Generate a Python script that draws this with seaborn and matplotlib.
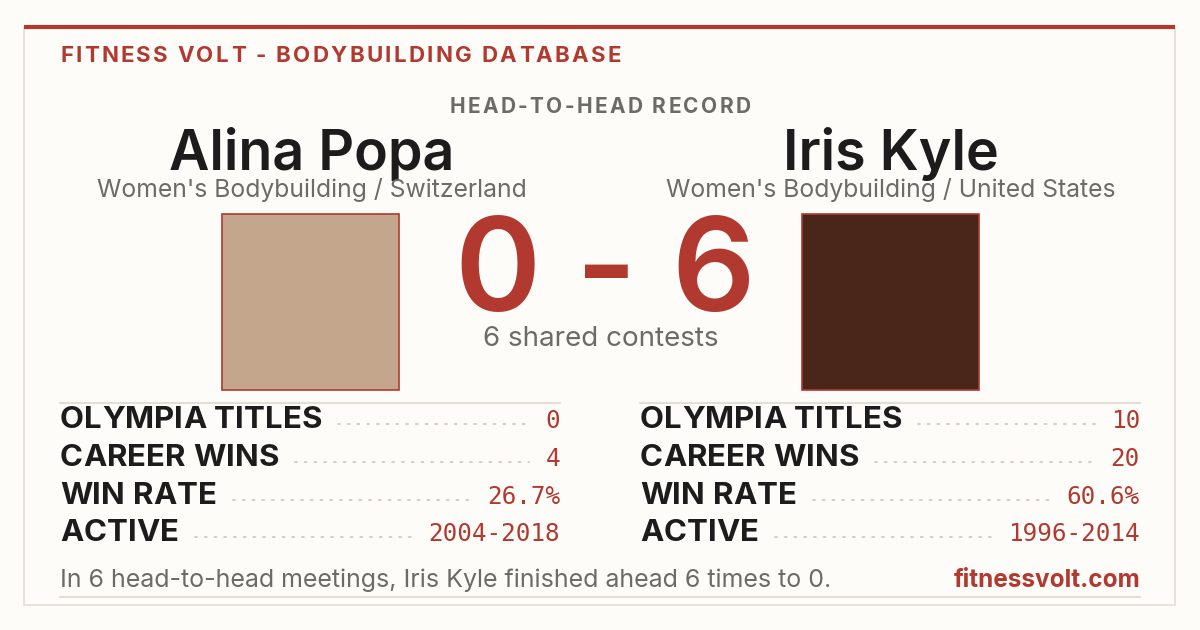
import seaborn as sns
import matplotlib.pyplot as plt
from matplotlib.font_manager import FontProperties
from matplotlib.patches import Rectangle

# card content
BRAND = "FITNESS VOLT - BODYBUILDING DATABASE"
TITLE = "HEAD-TO-HEAD RECORD"
athletes = ["Alina Popa", "Iris Kyle"]
divisions = ["Women's Bodybuilding / Switzerland", "Women's Bodybuilding / United States"]
h2h_wins = [0, 6]
shared_contests = 6
stat_labels = ["OLYMPIA TITLES", "CAREER WINS", "WIN RATE", "ACTIVE"]
popa_stats = ["0", "4", "26.7%", "2004-2018"]
kyle_stats = ["10", "20", "60.6%", "1996-2014"]
photo_tones = ["#c4a68c", "#4a2519"]
SITE = "fitnessvolt.com"

RED = "#b2392f"
INK = "#1c1c1c"
GREY = "#6b6b68"
RULE = "#e3dfd6"
BG = "#fdfcf8"

sns.set_theme(style="white", rc={"figure.facecolor": BG, "axes.facecolor": BG})
plt.rcParams["font.family"] = ["Inter", "DejaVu Sans"]

fig = plt.figure(figsize=(12, 6.3), dpi=100)
ax = fig.add_axes([0, 0, 1, 1])
ax.set_xlim(0, 1200)
ax.set_ylim(630, 0)
ax.axis("off")
renderer = fig.canvas.get_renderer()


def fp(size, weight="normal", family="Inter"):
    return FontProperties(family=[family, "DejaVu Sans"], size=size, weight=weight)


def text_w(s, prop):
    w, h, d = renderer.get_text_width_height_descent(s, prop, ismath=False)
    return w


def tracked(x, y, s, prop, color, track=0.0, ha="left"):
    bar = text_w("|", prop)
    offs = [text_w(s[:i] + "|", prop) - bar if i else 0.0 for i in range(len(s))]
    total = offs[-1] + track * (len(s) - 1) + text_w(s[-1], prop)
    x0 = {"left": x, "center": x - total / 2, "right": x - total}[ha]
    for i, ch in enumerate(s):
        ax.text(x0 + offs[i] + track * i, y, ch, fontproperties=prop,
                color=color, ha="left", va="baseline")
    return x0 + total


# card frame
ax.add_patch(Rectangle((24, 26), 1151, 579, fill=False, ec=RULE, lw=1.2))
ax.plot([24, 1175], [26.5, 26.5], color=RED, lw=3, solid_capstyle="butt")

tracked(60, 62, BRAND, fp(16, "bold"), RED, track=2.3)
tracked(600, 113, TITLE, fp(15, "bold"), GREY, track=2.4, ha="center")

centers = [312, 891]
for cx, name, div in zip(centers, athletes, divisions):
    ax.text(cx, 170, name, fontproperties=fp(40, "semibold"), color=INK,
            ha="center", va="baseline")
    ax.text(cx, 197, div, fontproperties=fp(17.8), color=GREY,
            ha="center", va="baseline")

# photo frames
for px, tone in zip([222, 802], photo_tones):
    ax.add_patch(Rectangle((px, 214), 177, 176, fc=tone, ec=RED, lw=1.2))

tracked(605, 311, f"{h2h_wins[0]} - {h2h_wins[1]}", fp(94, "semibold"), RED,
        track=1.0, ha="center")
ax.text(601, 346, f"{shared_contests} shared contests", fontproperties=fp(20),
        color=GREY, ha="center", va="baseline")

# stat tables
label_prop = fp(22.5, "bold")
value_prop = fp(17.5, family="DejaVu Sans Mono")
baselines = [428, 466, 504, 541]
for left, right, values in [(60, 560, popa_stats), (640, 1140, kyle_stats)]:
    ax.plot([left, right], [403, 403], color=RULE, lw=1.5)
    for lab, val, yb in zip(stat_labels, values, baselines):
        end = tracked(left, yb, lab, label_prop, INK, track=0.1)
        ax.text(right, yb, val, fontproperties=value_prop, color=RED,
                ha="right", va="baseline")
        start = right - text_w(val, value_prop)
        ax.plot([end + 16, start - 16], [yb - 4, yb - 4], color="#d3cfc6",
                lw=1.4, ls=(0, (1, 4)), dash_capstyle="round")

footer = (f"In {shared_contests} head-to-head meetings, {athletes[1]} finished ahead "
          f"{h2h_wins[1]} times to {h2h_wins[0]}.")
ax.text(60, 587, footer, fontproperties=fp(18), color=GREY, ha="left", va="baseline")
ax.text(1140, 587, SITE, fontproperties=fp(17.5, "bold"), color=RED, ha="right", va="baseline")
ax.plot([60, 1140], [597, 597], color=RULE, lw=1.5)

fig.savefig("out.png", dpi=100, facecolor=BG)
